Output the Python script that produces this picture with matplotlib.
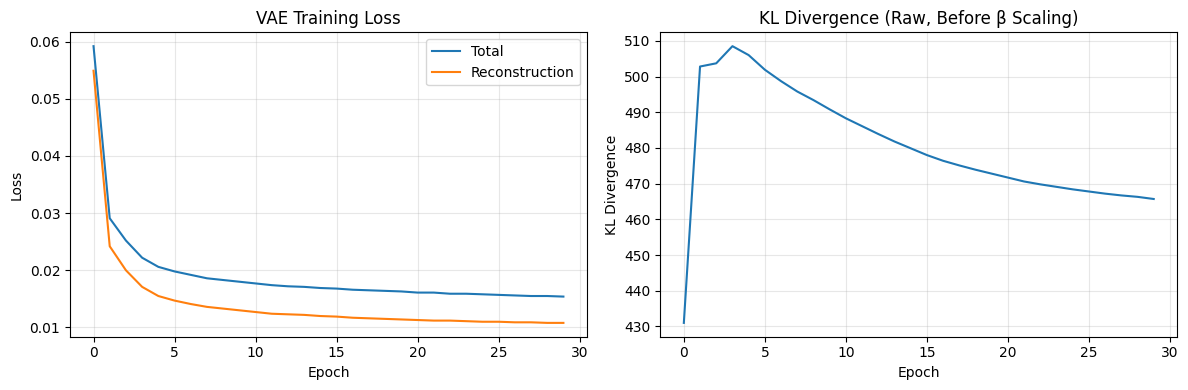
import matplotlib
matplotlib.use("Agg")
import matplotlib.pyplot as plt

epochs = list(range(30))
total_loss = [0.0592, 0.0291, 0.0252, 0.0222, 0.0206, 0.0198, 0.0192, 0.0186, 0.0183, 0.0180,
              0.0177, 0.0174, 0.0172, 0.0171, 0.0169, 0.0168, 0.0166, 0.0165, 0.0164, 0.0163,
              0.0161, 0.0161, 0.0159, 0.0159, 0.0158, 0.0157, 0.0156, 0.0155, 0.0155, 0.0154]
recon_loss = [0.0549, 0.0242, 0.0200, 0.0171, 0.0155, 0.0147, 0.0141, 0.0136, 0.0133, 0.0130,
              0.0127, 0.0124, 0.0123, 0.0122, 0.0120, 0.0119, 0.0117, 0.0116, 0.0115, 0.0114,
              0.0113, 0.0112, 0.0112, 0.0111, 0.0110, 0.0110, 0.0109, 0.0109, 0.0108, 0.0108]
kl_div = [431.0, 502.8, 503.7, 508.5, 506.0, 501.9, 498.7, 495.8, 493.4, 490.8,
          488.3, 486.1, 483.9, 481.8, 479.9, 478.0, 476.4, 475.1, 473.9, 472.8,
          471.7, 470.6, 469.8, 469.1, 468.4, 467.8, 467.2, 466.7, 466.3, 465.7]

fig, (ax1, ax2) = plt.subplots(1, 2, figsize=(12, 4), dpi=100)

ax1.plot(epochs, total_loss, label="Total")
ax1.plot(epochs, recon_loss, label="Reconstruction")
ax1.set_title("VAE Training Loss")
ax1.set_xlabel("Epoch")
ax1.set_ylabel("Loss")
ax1.legend()
ax1.grid(True, alpha=0.3)

ax2.plot(epochs, kl_div)
ax2.set_title("KL Divergence (Raw, Before β Scaling)")
ax2.set_xlabel("Epoch")
ax2.set_ylabel("KL Divergence")
ax2.grid(True, alpha=0.3)

fig.tight_layout()
fig.savefig("out.png", bbox_inches="tight")
